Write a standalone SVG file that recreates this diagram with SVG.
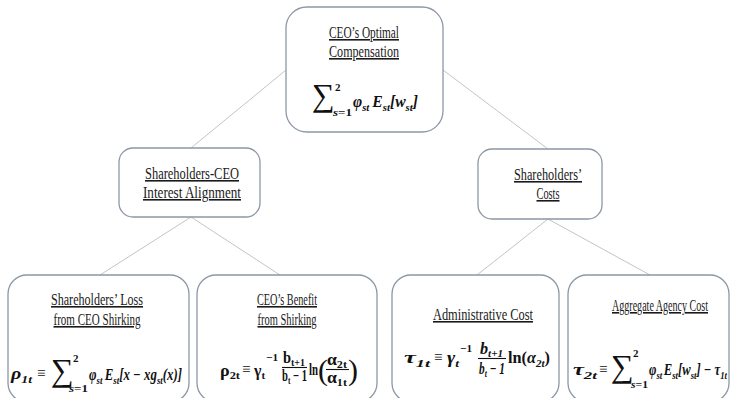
<svg xmlns="http://www.w3.org/2000/svg" width="735" height="398" viewBox="0 0 735 398">
<style>
.box{fill:#fff;stroke:#8c97a6;stroke-width:1.3}
.con{stroke:#c4c4c4;stroke-width:1;fill:none}
.lbl{font-family:"Liberation Serif",serif;font-size:16px;fill:#1a1a1a;text-anchor:middle;text-decoration:underline}
.m{font-family:"Liberation Serif",serif;font-size:16px;font-weight:bold;font-style:italic;fill:#111}
.mu{font-family:"Liberation Serif",serif;font-size:16px;font-weight:bold;fill:#111}
.op{font-family:"Liberation Serif",serif;font-size:15px;fill:#111}
.sum{font-family:"Liberation Serif",serif;font-size:32px;fill:#111}
.sb{font-size:11px}
.s{font-family:"Liberation Serif",serif;font-size:11px;font-weight:bold;fill:#111}
.par{font-family:"Liberation Serif",serif;font-size:30px;fill:#111}
.bar{stroke:#111;stroke-width:1.1}
</style>
<g id="connectors">
<line class="con" x1="286" y1="70" x2="191" y2="148"/>
<line class="con" x1="443" y1="70" x2="548" y2="149"/>
<line class="con" x1="191" y1="217" x2="100" y2="275"/>
<line class="con" x1="191" y1="217" x2="280" y2="275"/>
<line class="con" x1="548" y1="219" x2="477" y2="275"/>
<line class="con" x1="548" y1="219" x2="650" y2="275"/>
</g>
<g id="node-top">
<rect class="box" x="286" y="7" width="157" height="125" rx="21"/>
<text class="lbl" x="364" y="38" textLength="70" lengthAdjust="spacingAndGlyphs">CEO’s Optimal</text>
<text class="lbl" x="364" y="57" textLength="70" lengthAdjust="spacingAndGlyphs">Compensation</text>
<text class="sum" x="312" y="106">∑</text>
<text class="s" x="335" y="91">2</text>
<text class="s" x="333" y="116" textLength="19" lengthAdjust="spacingAndGlyphs"><tspan font-style="italic">s</tspan>=1</text>
<text class="m" x="353" y="107" textLength="65" lengthAdjust="spacingAndGlyphs">φ<tspan class="sb" dy="4">st</tspan><tspan dy="-4" dx="3">E</tspan><tspan class="sb" dy="4">st</tspan><tspan dy="-4">[w</tspan><tspan class="sb" dy="4">st</tspan><tspan dy="-4">]</tspan></text>
</g>
<g id="node-align">
<rect class="box" x="119" y="148" width="141" height="69" rx="14"/>
<text class="lbl" x="192" y="179" textLength="94" lengthAdjust="spacingAndGlyphs">Shareholders-CEO</text>
<text class="lbl" x="192" y="198" textLength="98" lengthAdjust="spacingAndGlyphs">Interest Alignment</text>
</g>
<g id="node-costs">
<rect class="box" x="478" y="149" width="124" height="70" rx="14"/>
<text class="lbl" x="548" y="180" textLength="68" lengthAdjust="spacingAndGlyphs">Shareholders’</text>
<text class="lbl" x="548" y="199" textLength="23" lengthAdjust="spacingAndGlyphs">Costs</text>
</g>
<g id="node-loss">
<rect class="box" x="8" y="275" width="181" height="127" rx="19"/>
<text class="lbl" x="97" y="305" textLength="92" lengthAdjust="spacingAndGlyphs">Shareholders’ Loss</text>
<text class="lbl" x="97" y="325" textLength="87" lengthAdjust="spacingAndGlyphs">from CEO Shirking</text>
<text class="m" x="11" y="379" textLength="21" lengthAdjust="spacingAndGlyphs">ρ<tspan class="sb" dy="4">1t</tspan></text>
<text class="op" x="37" y="378">≡</text>
<text class="sum" x="51" y="381">∑</text>
<text class="s" x="73" y="362">2</text>
<text class="s" x="69" y="392" textLength="19" lengthAdjust="spacingAndGlyphs"><tspan font-style="italic">s</tspan>=1</text>
<text class="m" x="89" y="380" textLength="93" lengthAdjust="spacingAndGlyphs">φ<tspan class="sb" dy="4">st</tspan><tspan dy="-4" dx="3">E</tspan><tspan class="sb" dy="4">st</tspan><tspan dy="-4">[x − xg</tspan><tspan class="sb" dy="4">st</tspan><tspan dy="-4">(x)]</tspan></text>
</g>
<g id="node-benefit">
<rect class="box" x="197" y="275" width="180" height="127" rx="19"/>
<text class="lbl" x="287" y="305" textLength="60" lengthAdjust="spacingAndGlyphs">CEO’s Benefit</text>
<text class="lbl" x="287" y="325" textLength="59" lengthAdjust="spacingAndGlyphs">from Shirking</text>
<text class="mu" x="220" y="376" textLength="20" lengthAdjust="spacingAndGlyphs">ρ<tspan class="sb" dy="3">2t</tspan></text>
<text class="op" x="242" y="374">≡</text>
<text class="mu" x="254" y="376" textLength="11" lengthAdjust="spacingAndGlyphs">γ<tspan class="sb" dy="3">t</tspan></text>
<text class="s" x="266" y="361" textLength="12" lengthAdjust="spacingAndGlyphs">−1</text>
<text class="mu" x="283" y="363" textLength="22" lengthAdjust="spacingAndGlyphs">b<tspan class="sb" dy="3">t+1</tspan></text>
<line class="bar" x1="282" y1="367.5" x2="307" y2="367.5"/>
<text class="mu" x="282" y="381" textLength="25" lengthAdjust="spacingAndGlyphs">b<tspan class="sb" dy="3">t</tspan><tspan dy="-3"> − 1</tspan></text>
<text class="mu" x="309" y="375" textLength="9" lengthAdjust="spacingAndGlyphs">ln</text>
<text class="par" x="318" y="380">(</text>
<text class="mu" x="327" y="365" textLength="20" lengthAdjust="spacingAndGlyphs">α<tspan class="sb" dy="3">2t</tspan></text>
<line class="bar" x1="326" y1="369.5" x2="349" y2="369.5"/>
<text class="mu" x="327" y="383" textLength="20" lengthAdjust="spacingAndGlyphs">α<tspan class="sb" dy="3">1t</tspan></text>
<text class="par" x="348" y="380">)</text>
</g>
<g id="node-admin">
<rect class="box" x="392" y="275" width="167" height="127" rx="19"/>
<text class="lbl" x="483" y="320" textLength="100" lengthAdjust="spacingAndGlyphs">Administrative Cost</text>
<text class="m" x="404" y="363" textLength="26" lengthAdjust="spacingAndGlyphs">τ<tspan class="sb" dy="4">1t</tspan></text>
<text class="op" x="434" y="362">≡</text>
<text class="m" x="447" y="363" textLength="12" lengthAdjust="spacingAndGlyphs">γ<tspan class="sb" dy="4">t</tspan></text>
<text class="s" x="460" y="352" textLength="12" lengthAdjust="spacingAndGlyphs">−1</text>
<text class="m" x="480" y="354" textLength="23" lengthAdjust="spacingAndGlyphs">b<tspan class="sb" dy="3">t+1</tspan></text>
<line class="bar" x1="478" y1="358.5" x2="506" y2="358.5"/>
<text class="m" x="479" y="374" textLength="26" lengthAdjust="spacingAndGlyphs">b<tspan class="sb" dy="3">t</tspan><tspan dy="-3"> − 1</tspan></text>
<text class="m" x="508" y="363" textLength="42" lengthAdjust="spacingAndGlyphs"><tspan font-style="normal">ln(</tspan>α<tspan class="sb" dy="4">2t</tspan><tspan dy="-4" font-style="normal">)</tspan></text>
</g>
<g id="node-agency">
<rect class="box" x="568" y="275" width="161" height="127" rx="19"/>
<text class="lbl" x="660" y="311" textLength="96" lengthAdjust="spacingAndGlyphs">Aggregate Agency Cost</text>
<text class="m" x="573" y="375" textLength="24" lengthAdjust="spacingAndGlyphs">τ<tspan class="sb" dy="4">2t</tspan></text>
<text class="op" x="599" y="374">≡</text>
<text class="sum" x="611" y="377">∑</text>
<text class="s" x="633" y="357">2</text>
<text class="s" x="631" y="388" textLength="17" lengthAdjust="spacingAndGlyphs"><tspan font-style="italic">s</tspan>=1</text>
<text class="m" x="649" y="375" textLength="78" lengthAdjust="spacingAndGlyphs">φ<tspan class="sb" dy="4">st</tspan><tspan dy="-4" dx="2">E</tspan><tspan class="sb" dy="4">st</tspan><tspan dy="-4">[w</tspan><tspan class="sb" dy="4">st</tspan><tspan dy="-4">] − τ</tspan><tspan class="sb" dy="4">1t</tspan></text>
</g>
</svg>
